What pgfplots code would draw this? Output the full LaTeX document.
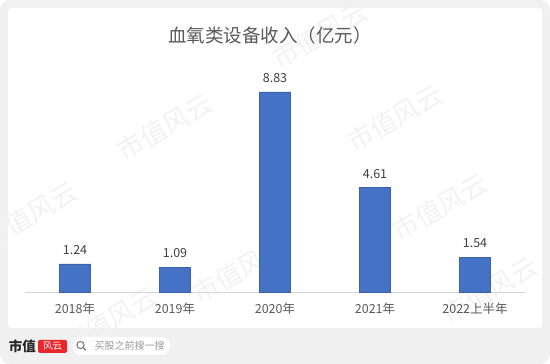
\documentclass[border=0pt]{standalone}
\usepackage{pgfplots}
\pgfplotsset{compat=1.18}
\usepackage{fontspec}
\setmainfont{Noto Sans CJK SC}
\definecolor{barblue}{HTML}{4472C4}
\definecolor{txt}{HTML}{595959}
\definecolor{vtxt}{HTML}{404040}
\definecolor{bggray}{HTML}{F0F0F0}
\definecolor{wm}{HTML}{F2F2F2}
\definecolor{logored}{HTML}{E8262B}
\begin{document}
\begin{tikzpicture}[x=1pt,y=1pt]
\useasboundingbox (0,0) rectangle (550,364);
\fill[bggray, rounded corners=10pt] (0,0) rectangle (550,364);
\fill[white, rounded corners=3pt] (8,36) rectangle (542,356);
% watermarks
\foreach \x/\y in {165/127, 395/118, 440/207, 490/290, 320/35, 30/215, 240/270, 110/320}
  \node[rotate=30, text=wm, font=\fontsize{26}{26}\selectfont] at (\x,{364-\y}) {市值风云};
% title
\node[text=txt, font=\fontsize{18.5}{20}\selectfont] at (270,329) {血氧类设备收入（亿元）};
\begin{axis}[
  at={(25pt,72pt)}, anchor=south west,
  scale only axis, width=500pt, height=226.5pt,
  xmin=-0.5, xmax=4.5, ymin=0, ymax=10,
  axis y line=none, axis x line*=bottom,
  x axis line style={draw=black!17, line width=0.8pt},
  xtick={0,1,2,3,4},
  xticklabels={2018年,2019年,2020年,2021年,2022上半年},
  major tick length=0pt,
  xticklabel style={font=\fontsize{12.5}{14}\selectfont, text=txt, inner sep=0pt, yshift=-11pt},
  ybar, bar width=31pt,
  /pgf/number format/assume math mode=true,
  nodes near coords,
  nodes near coords style={font=\fontsize{12.5}{14}\selectfont, text=vtxt, inner sep=0pt, yshift=9pt,
    /pgf/number format/fixed, /pgf/number format/precision=2, /pgf/number format/fixed zerofill},
  clip=false,
]
\addplot[fill=barblue, draw=barblue!85!black, line width=0.3pt] coordinates {(0,1.24) (1,1.09) (2,8.83) (3,4.61) (4,1.54)};
\end{axis}
% bottom logo
\node[font=\bfseries\fontsize{13.5}{14}\selectfont, text=black!85] at (22.5,18) {市值};
\fill[logored, rounded corners=1.5pt] (38,11) rectangle (67,24);
\node[font=\fontsize{9.5}{10}\selectfont, text=white, xslant=-0.2] at (52.5,17.5) {风云};
\fill[white, rounded corners=9pt] (72,9) rectangle (170,27);
\draw[black!55, line width=1pt] (80.5,19) circle (3.6);
\draw[black!55, line width=1.2pt] (83.2,16.3) -- (85.8,13.7);
\node[font=\fontsize{10}{11}\selectfont, text=black!40, anchor=west] at (91,18) {买股之前搜一搜};
\end{tikzpicture}
\end{document}
